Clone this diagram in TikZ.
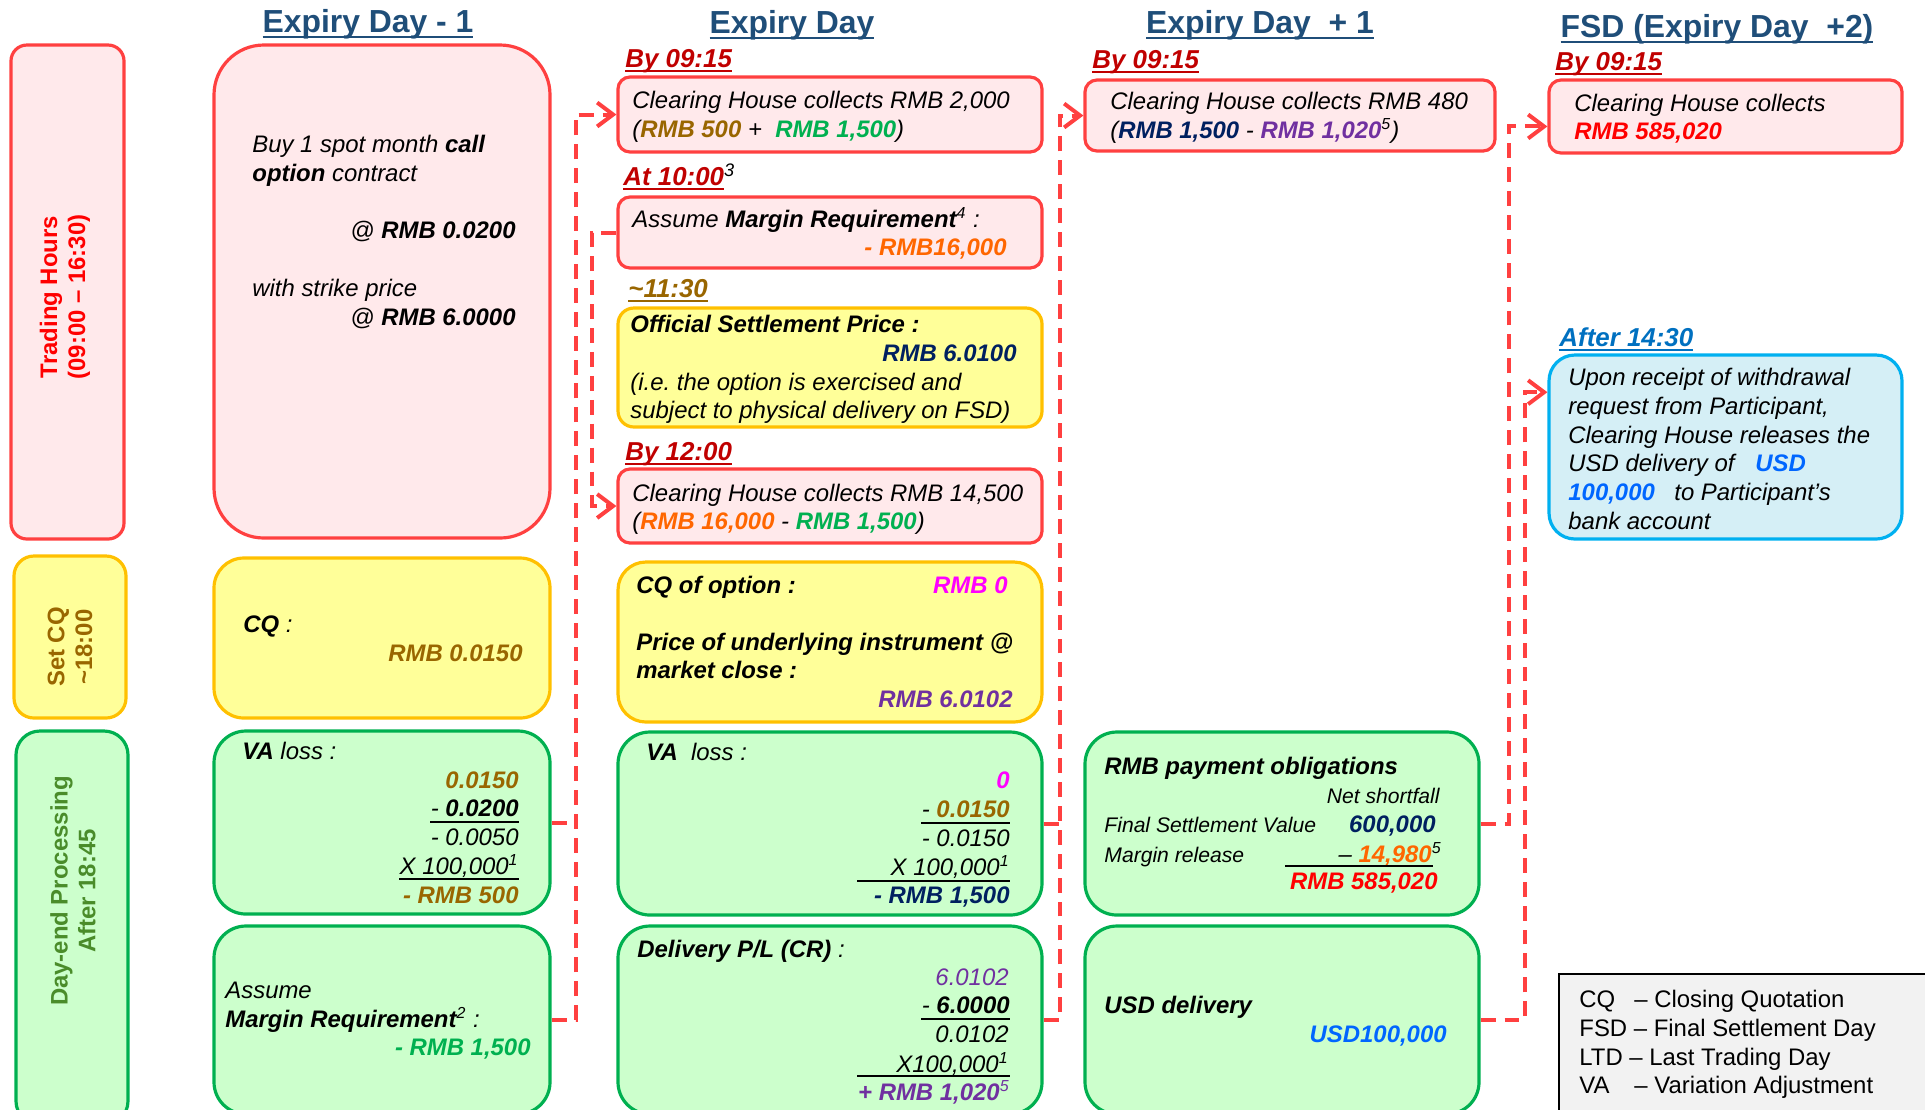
\documentclass[tikz,border=0pt]{standalone}
\usepackage{fontspec}
\setmainfont{Liberation Sans}
\usetikzlibrary{arrows.meta,fit}

\definecolor{cTitle}{HTML}{1F4E79}
\definecolor{cRedB}{HTML}{FF4040}
\definecolor{cPink}{HTML}{FFE9EB}
\definecolor{cTime}{HTML}{C00000}
\definecolor{cYel}{HTML}{FFFF99}
\definecolor{cYelB}{HTML}{FFC000}
\definecolor{cBrown}{HTML}{996600}
\definecolor{cGrnB}{HTML}{00B050}
\definecolor{cGrn}{HTML}{CCFFCC}
\definecolor{cGrnT}{HTML}{00B050}
\definecolor{cDayT}{HTML}{4A8C2A}
\definecolor{cOrange}{HTML}{FF6600}
\definecolor{cNavy}{HTML}{002060}
\definecolor{cPurple}{HTML}{7030A0}
\definecolor{cMag}{HTML}{FF00FF}
\definecolor{cRed}{HTML}{FF0000}
\definecolor{cBlueT}{HTML}{0066FF}
\definecolor{cAfter}{HTML}{0070C0}
\definecolor{cBlueB}{HTML}{00B0F0}
\definecolor{cBlueF}{HTML}{D5EFF6}
\definecolor{cLeg}{HTML}{F2F2F2}
\definecolor{cConn}{HTML}{FF4040}

\newcommand\ulT[1]{{\setbox0=\hbox{#1}\rlap{\rule[-3pt]{\wd0}{1.1pt}}\box0}}
\newcommand\ulS[1]{{\setbox0=\hbox{#1}\rlap{\rule[-2.4pt]{\wd0}{0.8pt}}\box0}}
\newcommand\cbf[2]{\textcolor{#1}{\textbf{#2}}}

\tikzset{
  box/.style={draw, line width=1.6pt, inner sep=0pt},
  redbox/.style={box, draw=cRedB, fill=cPink},
  ylwbox/.style={box, draw=cYelB, fill=cYel},
  grnbox/.style={box, draw=cGrnB, fill=cGrn},
  it/.style={font=\fontsize{12}{14}\selectfont\itshape},
  tl/.style={it, anchor=base west, inner sep=0pt},
  tr/.style={it, anchor=base east, inner sep=0pt},
  sl/.style={font=\fontsize{10.6}{13}\selectfont\itshape, anchor=base west, inner sep=0pt},
  sr/.style={font=\fontsize{10.6}{13}\selectfont\itshape, anchor=base east, inner sep=0pt},
  ttl/.style={anchor=base, inner sep=0pt, font=\fontsize{16}{19}\selectfont\bfseries, text=cTitle},
  tm/.style={anchor=base west, inner sep=0pt, font=\fontsize{13}{15}\selectfont\bfseries\itshape, text=cTime},
  lab/.style={rotate=90, align=center, inner sep=0pt, font=\fontsize{12}{14}\selectfont\bfseries},
  lg/.style={anchor=base west, inner sep=0pt, font=\fontsize{12}{14}\selectfont},
  ulr/.style={line width=0.8pt, draw=black},
  conn/.style={draw=cConn, line width=2pt, dash pattern=on 7.5pt off 4.5pt},
  arr/.style={conn, -{Straight Barb[length=8pt,width=12pt]}}
}

\begin{document}
\begin{tikzpicture}[x=0.5bp,y=-0.5bp]
\useasboundingbox (0,0) rectangle (1925,1109);

% ---------- titles
\node[ttl] (ttl1) at (368,32) {\ulT{Expiry Day - 1}};
\node[ttl] (ttl2) at (792,33) {\ulT{Expiry Day}};
\node[ttl] (ttl3) at (1260,33) {\ulT{Expiry Day\ \ + 1}};
\node[ttl] (ttl4) at (1717,37) {\ulT{FSD (Expiry Day\ \ +2)}};

% ---------- left labels
\node[redbox, rounded corners=8pt, fit={(11,45) (124,539)}] (lth) {};
\node[ylwbox, rounded corners=10pt, fit={(14,556) (126,718)}] (lcq) {};
\node[grnbox, rounded corners=12pt, fit={(16,731) (128,1125)}] (lde) {};
\node[lab, text=cRed] (lthT) at (65,297) {Trading Hours\\(09:00 – 16:30)};
\node[lab, text=cBrown] (lcqT) at (70,647) {Set CQ\\\textasciitilde 18:00};
\node[lab, text=cDayT] (ldeT) at (73,891) {Day-end Processing\\After 18:45};

% ---------- column 1
\node[redbox, rounded corners=25pt, fit={(214,45) (550,538)}] (c1buy) {};
\node[ylwbox, rounded corners=15pt, fit={(214,558) (550,718)}] (c1cq) {};
\node[grnbox, rounded corners=16pt, fit={(214,731) (550,914)}] (c1va) {};
\node[grnbox, rounded corners=16pt, fit={(214,926) (550,1114)}] (c1mr) {};

\node[tl] (a1) at (252,152) {Buy 1 spot month \textbf{call}};
\node[tl] (a2) at (252,181) {\textbf{option} contract};
\node[tr] (a3) at (516,238) {@ \textbf{RMB 0.0200}};
\node[tl] (a4) at (252,296) {with strike price};
\node[tr] (a5) at (516,325) {@ \textbf{RMB 6.0000}};
\node[tl] (a6) at (243,632) {\textbf{CQ} :};
\node[tr] (a7) at (523,661) {\cbf{cBrown}{RMB 0.0150}};
\node[tl] (a8) at (242,759) {\textbf{VA} loss :};
\node[tr] (a9) at (519,788) {\cbf{cBrown}{0.0150}};
\node[tr] (a10) at (519,816) {- \textbf{0.0200}};
\node[tr] (a11) at (519,845) {- 0.0050};
\node[tr] (a12) at (519,874) {X 100,000\textsuperscript{1}};
\node[tr] (a13) at (519,903) {\cbf{cBrown}{- RMB 500}};
\draw[ulr] (430,822) -- (519,822);
\draw[ulr] (399,879) -- (519,879);
\node[tl] (a14) at (225,998) {Assume};
\node[tl] (a15) at (225,1027) {\textbf{Margin Requirement}\textsuperscript{2} :};
\node[tr] (a16) at (531,1055) {\cbf{cGrnT}{- RMB 1,500}};

% ---------- column 2
\node[redbox, rounded corners=6pt, fit={(618,77) (1042,152)}] (c2b1) {};
\node[redbox, rounded corners=6pt, fit={(618,197) (1042,268)}] (c2b2) {};
\node[ylwbox, rounded corners=8pt, fit={(618,308) (1042,427)}] (c2b3) {};
\node[redbox, rounded corners=6pt, fit={(618,469) (1042,543)}] (c2b4) {};
\node[ylwbox, rounded corners=14pt, fit={(618,562) (1042,722)}] (c2b5) {};
\node[grnbox, rounded corners=16pt, fit={(618,732) (1042,915)}] (c2b6) {};
\node[grnbox, rounded corners=16pt, fit={(618,926) (1042,1114)}] (c2b7) {};

\node[tm] (m1) at (625,67) {\ulS{By 09:15}};
\node[tm] (m2) at (623,185) {\ulS{At 10:00}\textcolor{black}{\textsuperscript{\mdseries 3}}};
\node[tm, text=cBrown] (m3) at (628,297) {\ulS{\textasciitilde 11:30}};
\node[tm] (m4) at (625,460) {\ulS{By 12:00}};

\node[tl] (b1) at (632,108) {Clearing House collects RMB 2,000};
\node[tl] (b2) at (632,137) {(\cbf{cBrown}{RMB 500} +\ \ \cbf{cGrnT}{RMB 1,500})};
\node[tl] (b3) at (632,227) {Assume \textbf{Margin Requirement}\textsuperscript{4} :};
\node[tr] (b4) at (1007,255) {\cbf{cOrange}{- RMB16,000}};
\node[tl] (b5) at (630,332) {\textbf{Official Settlement Price :}};
\node[tr] (b6) at (1017,361) {\cbf{cNavy}{RMB 6.0100}};
\node[tl] (b7) at (630,390) {(i.e.\ the option is exercised and};
\node[tl] (b8) at (630,418) {subject to physical delivery on FSD)};
\node[tl] (b9) at (632,501) {Clearing House collects RMB 14,500};
\node[tl] (b10) at (632,529) {(\cbf{cOrange}{RMB 16,000} - \cbf{cGrnT}{RMB 1,500})};
\node[tl] (b11) at (636,593) {\textbf{CQ of option :}};
\node[tr] (b12) at (1008,593) {\cbf{cMag}{RMB 0}};
\node[tl] (b13) at (636,650) {\textbf{Price of underlying instrument @}};
\node[tl] (b14) at (636,678) {\textbf{market close :}};
\node[tr] (b15) at (1013,707) {\cbf{cPurple}{RMB 6.0102}};
\node[tl] (b16) at (646,760) {\textbf{VA}\ \ loss :};
\node[tr] (b17) at (1010,788) {\cbf{cMag}{0}};
\node[tr] (b18) at (1010,817) {- \cbf{cBrown}{0.0150}};
\draw[ulr] (921,823) -- (1010,823);
\node[tr] (b19) at (1010,846) {- 0.0150};
\node[tr] (b20) at (1010,875) {X 100,000\textsuperscript{1}};
\draw[ulr] (857,881) -- (1010,881);
\node[tr] (b21) at (1010,903) {\cbf{cNavy}{- RMB 1,500}};
\node[tl] (b22) at (637,957) {\textbf{Delivery P/L (CR)} :};
\node[tr] (b23) at (1009,985) {\textcolor{cPurple}{6.0102}};
\node[tr] (b24) at (1010,1013) {- \textbf{6.0000}};
\draw[ulr] (921,1019) -- (1010,1019);
\node[tr] (b25) at (1009,1042) {0.0102};
\node[tr] (b26) at (1009,1072) {X100,000\textsuperscript{1}};
\draw[ulr] (857,1076) -- (1010,1076);
\node[tr] (b27) at (1010,1100) {\textcolor{cPurple}{\textbf{+ RMB 1,020}\textsuperscript{5}}};

% ---------- column 3
\node[redbox, rounded corners=6pt, fit={(1085,80) (1495,151)}] (c3b1) {};
\node[grnbox, rounded corners=16pt, fit={(1085,732) (1479,915)}] (c3rmb) {};
\node[grnbox, rounded corners=16pt, fit={(1085,926) (1479,1114)}] (c3usd) {};

\node[tm] (m5) at (1092,68) {\ulS{By 09:15}};
\node[tl] (d1) at (1110,109) {Clearing House collects RMB 480};
\node[tl] (d2) at (1110,138) {(\cbf{cNavy}{RMB 1,500} - \cbf{cPurple}{RMB 1,020}\textsuperscript{5})};
\node[tl] (d3) at (1104,774) {\textbf{RMB payment obligations}};
\node[sr] (d4) at (1440,803) {Net shortfall};
\node[sl] (d5) at (1104,832) {Final Settlement Value};
\node[tr] (d6) at (1436,832) {\cbf{cNavy}{600,000}};
\node[sl] (d7) at (1104,862) {Margin release};
\node[tr] (d8) at (1442,862) {– \cbf{cOrange}{14,980}\textsuperscript{5}};
\draw[ulr] (1285,866) -- (1433,866);
\node[tr] (d9) at (1438,889) {\cbf{cRed}{RMB 585,020}};
\node[tl] (d10) at (1104,1013) {\textbf{USD delivery}};
\node[tr] (d11) at (1447,1042) {\cbf{cBlueT}{USD100,000}};

% ---------- column 4
\node[redbox, rounded corners=6pt, fit={(1549,80) (1902,153)}] (c4b1) {};
\node[box, draw=cBlueB, fill=cBlueF, rounded corners=13pt, fit={(1549,355) (1902,539)}] (c4bl) {};

\node[tm] (m6) at (1555,70) {\ulS{By 09:15}};
\node[tm, text=cAfter] (m7) at (1559,346) {\ulS{After 14:30}};
\node[tl] (e1) at (1574,111) {Clearing House collects};
\node[tl] (e2) at (1574,139) {\cbf{cRed}{RMB 585,020}};
\node[tl] (e3) at (1568,385) {Upon receipt of withdrawal};
\node[tl] (e4) at (1568,414) {request from Participant,};
\node[tl] (e5) at (1568,443) {Clearing House releases the};
\node[tl] (e6) at (1568,471) {USD delivery of};
\node[tl] (e7) at (1755,471) {\cbf{cBlueT}{USD}};
\node[tl] (e8) at (1568,500) {\cbf{cBlueT}{100,000}};
\node[tl] (e9) at (1674,500) {to Participant’s};
\node[tl] (e10) at (1568,529) {bank account};

% ---------- legend
\node[box, draw=black, fill=cLeg, line width=1pt, fit={(1559,974) (1945,1130)}] (leg) {};
\node[lg] (g1a) at (1579,1007) {CQ};
\node[lg] (g1b) at (1634,1007) {– Closing Quotation};
\node[lg] (g2) at (1579,1036) {FSD – Final Settlement Day};
\node[lg] (g3) at (1579,1065) {LTD – Last Trading Day};
\node[lg] (g4a) at (1579,1093) {VA};
\node[lg] (g4b) at (1634,1093) {– Variation Adjustment};

% ---------- connectors
\draw[arr] (c1mr.east) -- ++(24,0) |- (c2b1.west);
\draw[conn] (c1va.east) -- ++(24,0);
\draw[arr] (c2b2.west) -- ++(-24,0) |- (c2b4.west);
\draw[arr] (c2b7.east) -- ++(16,0) |- (c3b1.west);
\draw[conn] (c2b6.east) -- ++(16,0);
\draw[arr] (c3rmb.east) -- ++(28,0) |- ([yshift=-5pt]c4b1.west);
\draw[arr] (c3usd.east) -- ++(44,0) |- ([yshift=27.5pt]c4bl.west);
\end{tikzpicture}
\end{document}
